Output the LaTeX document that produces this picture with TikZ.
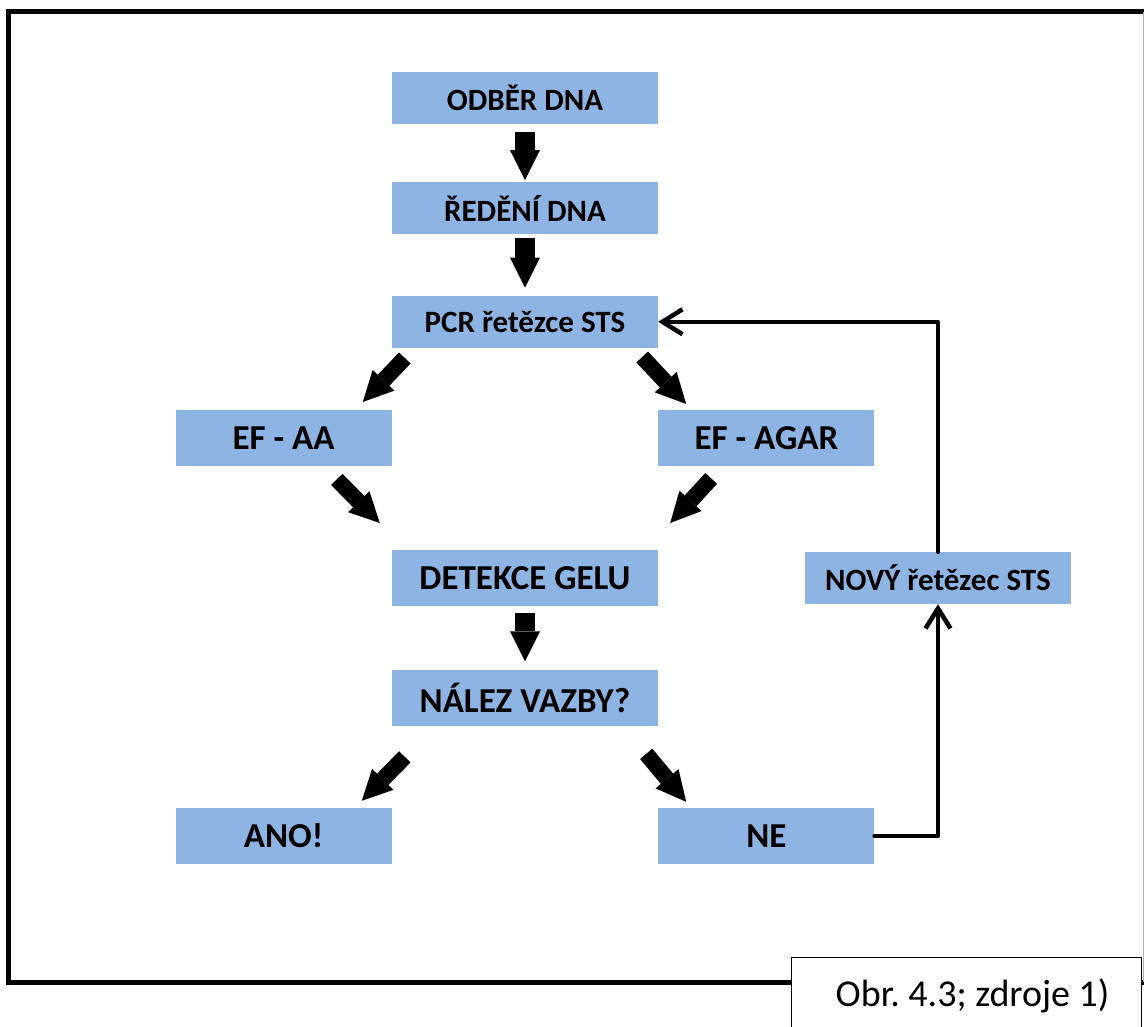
\documentclass[tikz,border=0pt]{standalone}
\usepackage{fontspec}
\setmainfont{Carlito}
\usetikzlibrary{arrows.meta,positioning}

\definecolor{boxblue}{HTML}{8EB4E3}

\begin{document}
\frenchspacing
\begin{tikzpicture}[x=1pt,y=-1pt,
    box/.style={fill=boxblue,inner sep=0pt,minimum width=266pt,minimum height=52pt,
      font=\bfseries\fontsize{31}{36}\selectfont},
    bigbox/.style={box,minimum height=56pt,font=\bfseries\fontsize{35}{40}\selectfont},
    sidebox/.style={bigbox,minimum width=216pt},
    fat/.style={line width=16pt,-{Triangle[length=30pt,width=30pt,line width=0pt]}},
    downfat/.style={fat,line width=20pt},
    feedback/.style={line width=4.5pt,line cap=round,line join=round,
      -{Straight Barb[length=20pt,width=25pt]}}]
    \useasboundingbox (0,0) rectangle (1144,1027);

    % frame
    \draw[line width=5pt] (1144,12) -- (8,12) -- (8,982) -- (1144,982);
    \draw[gray!60,line width=1pt] (1143,12) -- (1143,982);

    \node[box] (odber) at (525,98) {ODBĚR DNA};
    \node[box] (redeni) [below=58pt of odber] {ŘEDĚNÍ DNA};
    \node[box] (pcr) [below=61pt of redeni] {PCR řetězce STS};
    \node[sidebox] (efaa) [below=62pt of pcr.south west,anchor=north east] {EF - AA};
    \node[sidebox] (efagar) [below=62pt of pcr.south east,anchor=north west] {EF - AGAR};
    \node[bigbox] (detekce) [below=202pt of pcr] {DETEKCE GELU};
    \node[bigbox] (nalez) [below=63pt of detekce] {NÁLEZ VAZBY?};
    \node[sidebox] (ano) [below=82pt of nalez.south west,anchor=north east] {ANO!};
    \node[sidebox] (ne) [below=82pt of nalez.south east,anchor=north west] {NE};
    \node[box] (novy) at (938,578) {NOVÝ řetězec STS};

    % block arrows
    \draw[downfat] ([yshift=-8pt]odber.south) -- ([yshift=2pt]redeni.north);
    \draw[downfat] ([yshift=-3pt]redeni.south) -- ([yshift=8pt]pcr.north);
    \draw[fat] ([shift={(13,10)}]pcr.south west) -- ([shift={(-29,-8)}]efaa.north east);
    \draw[fat] ([shift={(-16,9)}]pcr.south east) -- ([shift={(28,-6)}]efagar.north west);
    \draw[fat] ([shift={(-55,13)}]efaa.south east) -- ([shift={(-12,-27)}]detekce.north west);
    \draw[fat] ([shift={(53,12)}]efagar.south west) -- ([shift={(12,-27)}]detekce.north east);
    \draw[downfat] ([yshift=-7pt]detekce.south) -- ([yshift=8pt]nalez.north);
    \draw[fat] ([shift={(13,31)}]nalez.south west) -- ([shift={(-30,-7)}]ano.north east);
    \draw[fat] ([shift={(-12,28)}]nalez.south east) -- ([shift={(28,-6)}]ne.north west);

    % back to PCR
    \draw[feedback] (ne.east) -| (novy.south);
    \draw[feedback] (novy.north) |- (pcr.east);

    \node[draw,line width=1.2pt,fill=white,anchor=north west,minimum width=350pt,
      minimum height=76pt,font=\fontsize{38}{43}\selectfont] (caption) at (791,957)
      {\hspace*{12pt}Obr. 4.3; zdroje 1)};
\end{tikzpicture}
\end{document}
